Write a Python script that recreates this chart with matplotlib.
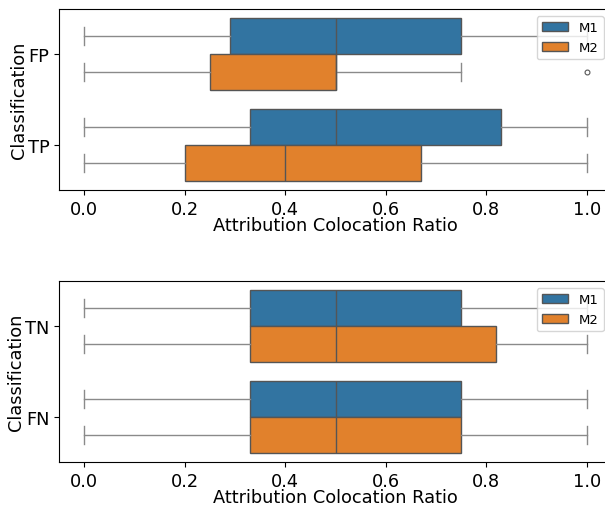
import matplotlib.pyplot as plt
from matplotlib.patches import Patch

# box stats: (whislo, q1, med, q3, whishi)
top_cats = ["FP", "TP"]
top_m1 = [(0.0, 0.29, 0.5, 0.75, 1.0), (0.0, 0.33, 0.5, 0.83, 1.0)]
top_m2 = [(0.0, 0.25, 0.5, 0.5, 0.75), (0.0, 0.2, 0.4, 0.67, 1.0)]
top_m2_fliers = [[1.0], []]

bot_cats = ["TN", "FN"]
bot_m1 = [(0.0, 0.33, 0.5, 0.75, 1.0), (0.0, 0.33, 0.5, 0.75, 1.0)]
bot_m2 = [(0.0, 0.33, 0.5, 0.82, 1.0), (0.0, 0.33, 0.5, 0.75, 1.0)]
bot_m2_fliers = [[], []]

models = ["M1", "M2"]
colors = ["#3274a1", "#e1812c"]
line_c = "#555555"


def to_stats(rows, fliers=None):
    out = []
    for i, (lo, q1, med, q3, hi) in enumerate(rows):
        out.append(dict(whislo=lo, q1=q1, med=med, q3=q3, whishi=hi,
                        fliers=fliers[i] if fliers else []))
    return out


def draw(ax, cats, m1, m2, m2_fliers):
    for k, (rows, fl) in enumerate([(m1, None), (m2, m2_fliers)]):
        pos = [i - 0.2 + 0.4 * k for i in range(len(cats))]
        ax.bxp(to_stats(rows, fl), positions=pos, widths=0.4, vert=False,
               patch_artist=True, manage_ticks=False,
               boxprops=dict(facecolor=colors[k], edgecolor=line_c, linewidth=1.0),
               medianprops=dict(color=line_c, linewidth=1.0),
               whiskerprops=dict(color="#8a8a8a", linewidth=1.0),
               capprops=dict(color="#8a8a8a", linewidth=1.0),
               flierprops=dict(marker="o", markersize=3.5, markerfacecolor="none",
                               markeredgecolor=line_c, markeredgewidth=0.8))
    ax.set_yticks(range(len(cats)))
    ax.set_yticklabels(cats)
    ax.set_ylim(len(cats) - 0.5, -0.5)
    ax.set_xlim(-0.05, 1.05)
    ax.set_xticks([0, 0.2, 0.4, 0.6, 0.8, 1.0])
    ax.set_xlabel("Attribution Colocation Ratio", fontsize=12.8, labelpad=-1)
    ax.set_ylabel("Classification", fontsize=12.8, labelpad=0)
    ax.tick_params(labelsize=12.8)


W, H = 605, 506
fig = plt.figure(figsize=(W / 100, H / 100), dpi=100)
# axes run past the right edge of the picture, as in the reference
ax1 = fig.add_axes([59 / W, 1 - 191 / H, 553 / W, 181 / H])
ax2 = fig.add_axes([59 / W, 1 - 463 / H, 553 / W, 181 / H])

draw(ax1, top_cats, top_m1, top_m2, top_m2_fliers)
draw(ax2, bot_cats, bot_m1, bot_m2, bot_m2_fliers)

for ax, top in [(ax1, 17), (ax2, 289)]:
    handles = [Patch(facecolor=colors[j], edgecolor=line_c, label=models[j]) for j in range(2)]
    ax.legend(handles=handles, loc="upper right", fontsize=9.5, borderaxespad=0,
              bbox_to_anchor=(604 / W, 1 - top / H), bbox_transform=fig.transFigure)

fig.savefig("out.png", dpi=100)
